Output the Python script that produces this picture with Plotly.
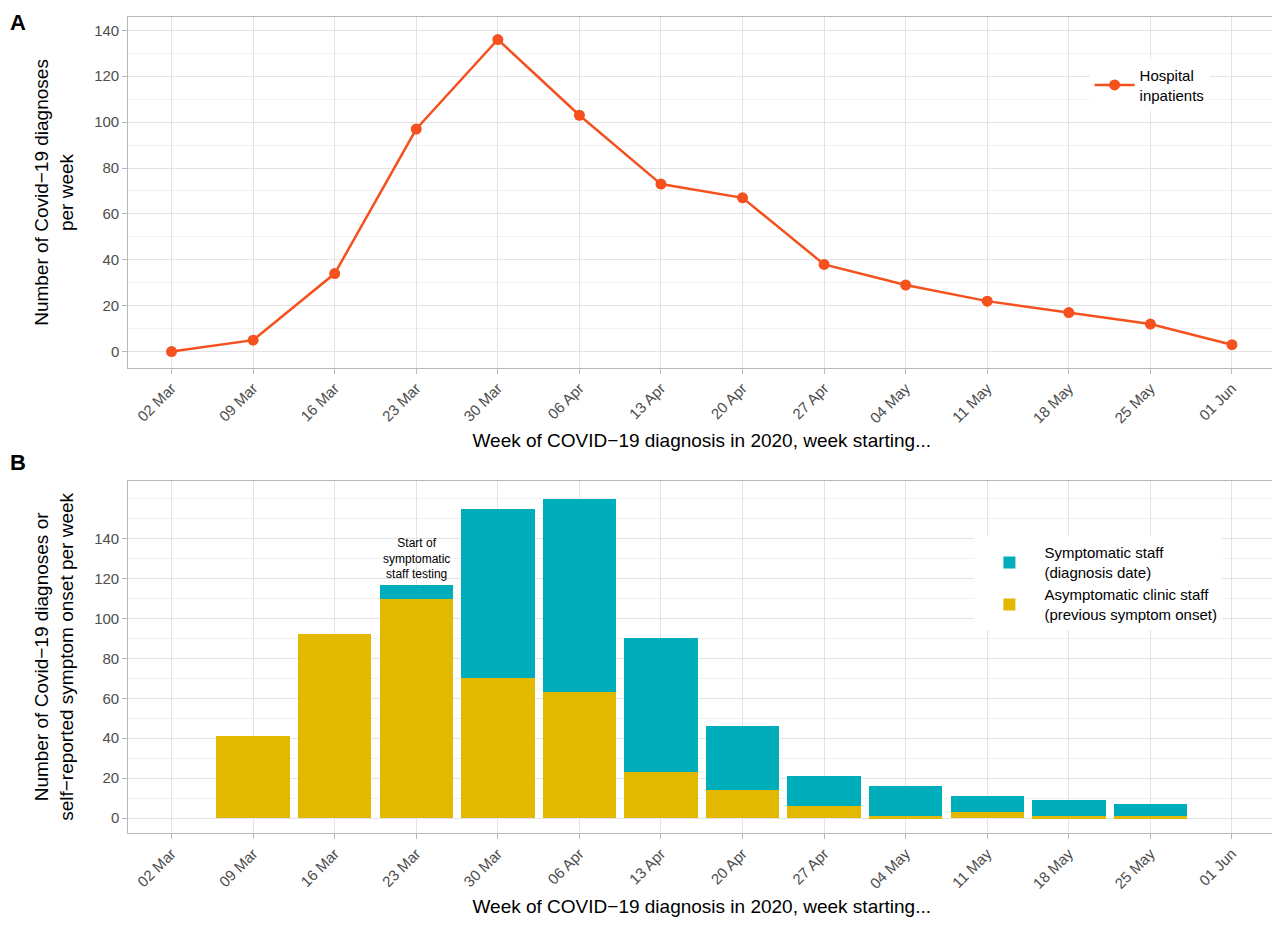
import plotly.graph_objects as go

weeks = ["02 Mar","09 Mar","16 Mar","23 Mar","30 Mar","06 Apr","13 Apr","20 Apr","27 Apr","04 May","11 May","18 May","25 May","01 Jun"]
inpatients = [0,5,34,97,136,103,73,67,38,29,22,17,12,3]
asymptomatic = [0,41,92,110,70,63,23,14,6,1,3,1,1,0]
symptomatic = [0,0,0,7,85,97,67,32,15,15,8,8,6,0]
yticksA = [0,20,40,60,80,100,120,140]
yticksB = [0,20,40,60,80,100,120,140]

fig = go.Figure()
fig.add_trace(go.Scatter(x=weeks, y=inpatients, mode="lines+markers", name="Hospital<br>inpatients",
    line=dict(color="#F4511E", width=2.5), marker=dict(size=11, color="#F4511E"),
    xaxis="x", yaxis="y", legend="legend", showlegend=True))
fig.add_trace(go.Bar(x=weeks, y=asymptomatic, name="Asymptomatic clinic staff<br>(previous symptom onset)",
    marker=dict(color="#E3B800", line=dict(width=0)), xaxis="x2", yaxis="y2", legend="legend2"))
fig.add_trace(go.Bar(x=weeks, y=symptomatic, name="Symptomatic staff<br>(diagnosis date)",
    marker=dict(color="#00ADBA", line=dict(width=0)), xaxis="x2", yaxis="y2", legend="legend2"))

ax = dict(showgrid=True, gridcolor="#E3E3E3", gridwidth=1.2, showline=True, mirror=True,
          linecolor="#B8B8B8", linewidth=1.2, ticks="outside", tickcolor="#B8B8B8", ticklen=5,
          tickfont=dict(size=15, color="#4D4D4D"), zeroline=False,
          minor=dict(showgrid=True, gridcolor="#F1F1F1", gridwidth=1))
xa = dict(ax, type="category", tickangle=-45, range=[-0.53, 13.53],
          title=dict(font=dict(size=19, color="#000")), minor=dict(showgrid=False))

fig.update_layout(
    width=1280, height=927, plot_bgcolor="white", paper_bgcolor="white",
    font=dict(family="Liberation Sans, Arial", color="#000"), showlegend=True,
    margin=dict(l=0, r=0, t=0, b=0), barmode="stack", bargap=0.1,
    xaxis=dict(xa, domain=[0.094, 0.99], anchor="y",
               title=dict(text="Week of COVID−19 diagnosis in 2020, week starting...", font=dict(size=19), standoff=8)),
    yaxis=dict(ax, domain=[0.612, 0.99], anchor="x", range=[-7, 145.7], tickvals=yticksA,
               minor=dict(showgrid=True, gridcolor="#F1F1F1", dtick=10),
               title=dict(text="Number of Covid−19 diagnoses<br>per week", font=dict(size=19))),
    xaxis2=dict(xa, domain=[0.094, 0.99], anchor="y2",
                title=dict(text="Week of COVID−19 diagnosis in 2020, week starting...", font=dict(size=19), standoff=8)),
    yaxis2=dict(ax, domain=[0.11, 0.49], anchor="x2", range=[-7.5, 169], tickvals=yticksB,
                minor=dict(showgrid=True, gridcolor="#F1F1F1", dtick=10),
                title=dict(text="Number of Covid−19 diagnoses or<br>self−reported symptom onset per week", font=dict(size=19))),
    legend=dict(x=0.845, y=0.945, xanchor="left", yanchor="top", bgcolor="white",
                font=dict(size=15), itemwidth=40),
    legend2=dict(x=0.755, y=0.43, xanchor="left", yanchor="top", bgcolor="white",
                 font=dict(size=15), traceorder="reversed", itemwidth=60, tracegroupgap=10),
    annotations=[
        dict(text="<b>A</b>", x=0.0, y=1.0, xref="paper", yref="paper", xanchor="left", yanchor="top",
             showarrow=False, font=dict(size=22)),
        dict(text="<b>B</b>", x=0.0, y=0.525, xref="paper", yref="paper", xanchor="left", yanchor="top",
             showarrow=False, font=dict(size=22)),
        dict(text="Start of<br>symptomatic<br>staff testing", x="23 Mar", y=118, xref="x2", yref="y2",
             yanchor="bottom", showarrow=False, font=dict(size=12)),
    ],
)
fig.write_html("out.html")
